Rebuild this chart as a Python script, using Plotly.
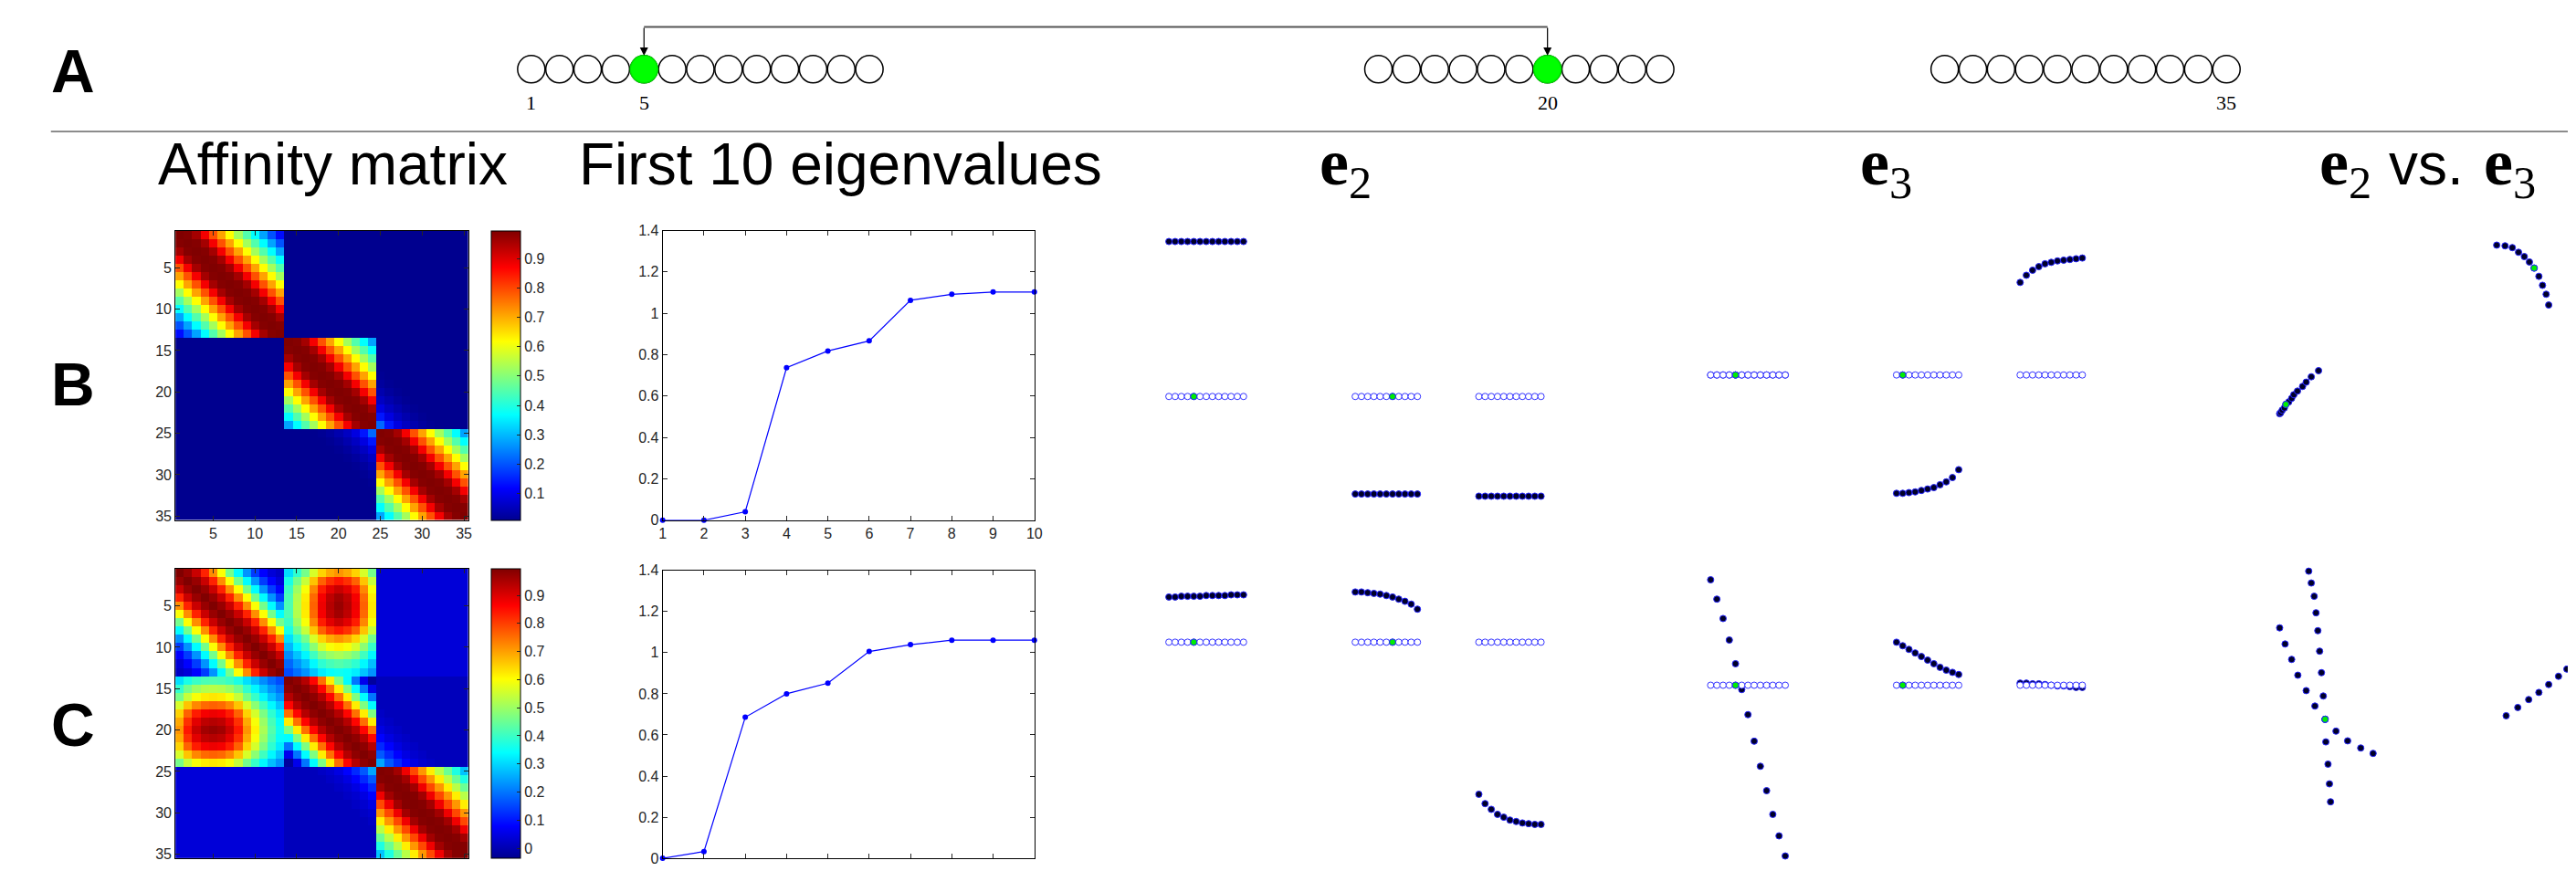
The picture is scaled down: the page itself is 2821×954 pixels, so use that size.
import numpy as np
import plotly.graph_objects as go

W, H = 2821, 954
SANS = "Liberation Sans, Arial, Helvetica, sans-serif"
SERIF = "Liberation Serif, Times New Roman, serif"
TICKC = "#262626"

# ---------------- data ----------------
group_sizes = [13, 11, 11]          # points in the three chains of panel A
highlight = [5, 20]                 # the two connected (green) points
chain_labels = [1, 5, 20, 35]

heat_ticks = [5, 10, 15, 20, 25, 30, 35]
cbar_ticks_B = [0.1, 0.2, 0.3, 0.4, 0.5, 0.6, 0.7, 0.8, 0.9]
cbar_ticks_C = [0, 0.1, 0.2, 0.3, 0.4, 0.5, 0.6, 0.7, 0.8, 0.9]

# affinity read from the matrices: value vs |i-j| inside each chain
band_B = [1.00, 0.99, 0.96, 0.88, 0.79, 0.71, 0.62, 0.53, 0.45, 0.37, 0.28, 0.20, 0.13]
cross23_B = [0.0, 0.22, 0.14, 0.09, 0.06, 0.04, 0.025, 0.015]
floors_B = {(0, 1): 0.01, (0, 2): 0.01, (1, 2): 0.01}

band_C1 = [1.00, 0.97, 0.92, 0.83, 0.72, 0.60, 0.46, 0.34, 0.23, 0.14, 0.08, 0.04, 0.02]
band_C2 = [1.00, 0.98, 0.94, 0.86, 0.75, 0.62, 0.47, 0.34, 0.20, 0.06, -0.02]
band_C3 = [1.00, 0.99, 0.96, 0.88, 0.79, 0.71, 0.62, 0.53, 0.45, 0.37, 0.28]
cross23_C = [0.0, 0.25, 0.17, 0.12, 0.08, 0.05, 0.03, 0.02]
blob_rows_C = [0.98, 0.97, 0.93, 0.85, 0.72, 0.62, 0.52, 0.43, 0.36]   # vs |i-5|
blob_cols_C = [0.99, 0.96, 0.90, 0.78, 0.64, 0.54, 0.43]               # vs |j-20|
floors_C = {(0, 1): 0.0, (0, 2): 0.04, (1, 2): 0.01}

eig_idx = [1, 2, 3, 4, 5, 6, 7, 8, 9, 10]
eig_B = [0.0, 0.0, 0.041, 0.737, 0.818, 0.867, 1.063, 1.092, 1.103, 1.103]
eig_C = [0.0, 0.033, 0.686, 0.800, 0.852, 1.006, 1.039, 1.061, 1.061, 1.061]

# eigenvector components per chain
e2_B = [[0.216] * 13, [-0.136] * 11, [-0.139] * 11]
e3_B = [[0.0] * 13,
        [-0.165, -0.165, -0.164, -0.163, -0.161, -0.159, -0.157, -0.153, -0.149, -0.143, -0.132],
        [0.129, 0.139, 0.146, 0.151, 0.155, 0.157, 0.159, 0.160, 0.161, 0.162, 0.163]]
e2_C = [[0.063, 0.063, 0.064, 0.064, 0.064, 0.064, 0.065, 0.065, 0.065, 0.065, 0.066, 0.066, 0.066],
        [0.070, 0.070, 0.069, 0.068, 0.067, 0.065, 0.063, 0.060, 0.057, 0.053, 0.046],
        [-0.212, -0.225, -0.233, -0.240, -0.244, -0.248, -0.250, -0.252, -0.253, -0.254, -0.254]]
e3_C = [[0.147, 0.120, 0.093, 0.063, 0.030, -0.006, -0.041, -0.078, -0.113, -0.147, -0.180, -0.210, -0.238],
        [0.060, 0.055, 0.050, 0.045, 0.040, 0.035, 0.030, 0.025, 0.021, 0.018, 0.015],
        [0.003, 0.003, 0.002, 0.002, 0.001, 0.000, -0.001, -0.001, -0.002, -0.003, -0.003]]
green_e2 = [5, 7, None]
green_e3 = [5, 2, None]

# e2 vs e3 scatter (visible parts)
sc_B = [
    ([-0.1825, -0.181, -0.179, -0.176, -0.174, -0.170, -0.166, -0.163, -0.158, -0.151, -0.146, -0.139, -0.129],
     [-0.054, -0.0525, -0.049, -0.046, -0.041, -0.0375, -0.0325, -0.0275, -0.0225, -0.016, -0.010, -0.0025, 0.006], 4),
    ([0.116, 0.1275, 0.1375, 0.146, 0.154, 0.161, 0.1675, 0.174, 0.179, 0.184, 0.1875],
     [0.181, 0.180, 0.1775, 0.171, 0.165, 0.1575, 0.149, 0.1375, 0.125, 0.1125, 0.0975], 6),
]
sc_C = [
    ([-0.1425, -0.139, -0.135, -0.1325, -0.130, -0.1275, -0.125, -0.1225, -0.120, -0.119, -0.116, -0.114, -0.1125],
     [0.159, 0.1425, 0.124, 0.101, 0.076, 0.0475, 0.0175, -0.015, -0.0475, -0.079, -0.110, -0.1375, -0.1625], 8),
    ([-0.1825, -0.175, -0.166, -0.1575, -0.146, -0.134, -0.120, -0.105, -0.089, -0.071, -0.054],
     [0.080, 0.0575, 0.036, 0.014, -0.0075, -0.029, -0.0475, -0.064, -0.0775, -0.0875, -0.095], 6),
    ([0.129, 0.145, 0.160, 0.174, 0.1875, 0.201, 0.2125],
     [-0.0425, -0.031, -0.020, -0.010, 0.001, 0.0125, 0.0225], None),
]

# ---------------- helpers ----------------
def pxd(a, b):
    return [a / W, b / W]


def pyd(top, bottom):
    return [1 - bottom / H, 1 - top / H]


def affinity(bands, cross23, floors, blob_rows=None, blob_cols=None):
    n = sum(group_sizes)
    grp = np.repeat(np.arange(3), group_sizes)
    M = np.empty((n, n))
    for i in range(n):
        for j in range(n):
            gi, gj = grp[i], grp[j]
            d = abs(i - j)
            if gi == gj:
                M[i, j] = bands[gi][d]
            else:
                pair = (min(gi, gj), max(gi, gj))
                v = floors[pair]
                if pair == (1, 2) and d < len(cross23):
                    v = max(v, cross23[d])
                if pair == (0, 1) and blob_rows is not None:
                    r, c = (i, j) if gi == 0 else (j, i)
                    v = blob_rows[abs(r - 4)] * blob_cols[abs(c - 19)]
                M[i, j] = v
    return M


jet = [[0.0, "rgb(0,0,143)"], [0.111, "rgb(0,0,255)"], [0.365, "rgb(0,255,255)"],
       [0.619, "rgb(255,255,0)"], [0.873, "rgb(255,0,0)"], [1.0, "rgb(128,0,0)"]]

tickfont = dict(family=SANS, size=16, color=TICKC)


def frame_axis(domain, rng, tickvals, anchor, ticktext=None, labels=True):
    d = dict(domain=domain, range=rng, tickvals=tickvals, ticks="inside", ticklen=5,
             tickwidth=1, tickcolor=TICKC, showline=True, linecolor="black", linewidth=1,
             mirror="ticks", showgrid=False, zeroline=False, anchor=anchor,
             tickfont=tickfont, fixedrange=True, showticklabels=labels)
    if ticktext is not None:
        d["ticktext"] = ticktext
    return d


def hidden_axis(domain, rng, anchor):
    return dict(domain=domain, range=rng, visible=False, anchor=anchor, fixedrange=True)


fig = go.Figure()
layout = dict(width=W, height=H, margin=dict(l=0, r=0, t=0, b=0),
              paper_bgcolor="white", plot_bgcolor="rgba(0,0,0,0)", showlegend=False)
annotations = []
shapes = []

# ---------------- row A: the chains ----------------
gap1, gap2 = 529 / 31, 282 / 31


def slot(i):
    if i <= group_sizes[0]:
        return i
    if i <= group_sizes[0] + group_sizes[1]:
        return i + gap1
    return i + gap1 + gap2


pts = list(range(1, sum(group_sizes) + 1))
layout["xaxis"] = hidden_axis([0, 1], [1 - 580.5 / 31, 1 + (W - 580.5) / 31], "y")
layout["yaxis"] = hidden_axis(pyd(39, 99), [-1, 1], "x")
fig.add_trace(go.Scatter(x=[slot(p) for p in pts], y=[0] * len(pts), mode="markers",
                         marker=dict(size=30, color="white", line=dict(color="black", width=1.5)),
                         xaxis="x", yaxis="y", cliponaxis=False, hoverinfo="skip"))
fig.add_trace(go.Scatter(x=[slot(p) for p in highlight], y=[0] * len(highlight), mode="markers",
                         marker=dict(size=30, color="#00ff00", line=dict(color="#00e000", width=1.5)),
                         xaxis="x", yaxis="y", cliponaxis=False, hoverinfo="skip"))
for lab in chain_labels:
    annotations.append(dict(x=slot(lab), y=1 - 106 / H, xref="x", yref="paper", text=str(lab),
                            showarrow=False, font=dict(family=SERIF, size=22, color="black"),
                            xanchor="center", yanchor="middle"))
for p in highlight:
    annotations.append(dict(x=slot(p), y=1 - 54 / H, xref="x", yref="paper", text="",
                            showarrow=True, arrowhead=2, arrowsize=1.5, arrowwidth=1.2,
                            arrowcolor="black", ax=0, ay=-32, standoff=0))
shapes.append(dict(type="line", xref="x", yref="paper", x0=slot(highlight[0]), x1=slot(highlight[1]),
                   y0=1 - 22 / H, y1=1 - 22 / H, line=dict(color="#555555", width=2)))
shapes.append(dict(type="line", xref="paper", yref="paper", x0=52 / W, x1=1, y0=1 - 138.5 / H,
                   y1=1 - 138.5 / H, line=dict(color="#8c8c8c", width=2)))

# ---------------- heatmaps ----------------
idx35 = list(range(1, 36))
M_B = affinity([band_B, band_B[:11], band_B[:11]], cross23_B, floors_B)
M_C = affinity([band_C1, band_C2, band_C3], cross23_C, floors_C, blob_rows_C, blob_cols_C)

for k, (M, top, bot, zmin, zmax, cticks, xa, ya) in enumerate([
        (M_B, 249, 572, 0.01, 0.995, cbar_ticks_B, "x2", "y2"),
        (M_C, 626, 949, -0.035, 0.995, cbar_ticks_C, "x3", "y3")]):
    fig.add_trace(go.Heatmap(
        z=M, x=idx35, y=idx35, colorscale=jet, zmin=zmin, zmax=zmax, xaxis=xa, yaxis=ya,
        hoverinfo="skip",
        colorbar=dict(x=536 / W, xanchor="left", xpad=0, y=1 - top / H, yanchor="top", ypad=0,
                      len=(bot - top) / H, lenmode="fraction", thickness=32, thicknessmode="pixels",
                      outlinewidth=1, outlinecolor="black", ticks="inside", ticklen=4,
                      tickcolor=TICKC, tickvals=cticks, ticktext=[("%g" % t) for t in cticks],
                      tickfont=tickfont)))
    xn, yn = ("xaxis2", "yaxis2") if k == 0 else ("xaxis3", "yaxis3")
    layout[xn] = frame_axis(pxd(189, 511), [0.5, 35.5], heat_ticks, ya, labels=(k == 0))
    layout[yn] = frame_axis(pyd(top, bot), [35.5, 0.5], heat_ticks, xa)

# ---------------- eigenvalue plots ----------------
ytv = [0, 0.2, 0.4, 0.6, 0.8, 1.0, 1.2, 1.4]
ytt = ["0", "0.2", "0.4", "0.6", "0.8", "1", "1.2", "1.4"]
for k, (vals, top, bot, xa, ya) in enumerate([(eig_B, 249, 572, "x4", "y4"),
                                              (eig_C, 628, 949, "x5", "y5")]):
    fig.add_trace(go.Scatter(x=eig_idx, y=vals, mode="lines+markers", xaxis=xa, yaxis=ya,
                             line=dict(color="#0000ff", width=1.2),
                             marker=dict(size=6, color="#0000ff"), cliponaxis=False,
                             hoverinfo="skip"))
    xn, yn = ("xaxis4", "yaxis4") if k == 0 else ("xaxis5", "yaxis5")
    layout[xn] = frame_axis(pxd(725, 1134), [1, 10], eig_idx, ya, labels=(k == 0))
    layout[yn] = frame_axis(pyd(top, bot), [0, 1.4], ytv, xa, ytt)

# ---------------- eigenvector panels ----------------
spacing = 6.84
first_e2 = [1282, 1487, 1623]
first_e3 = [1878, 2082.5, 2218.5]
for k in range(3):
    n = group_sizes[k]
    for c1, num in ((first_e2[k], 6 + k), (first_e3[k], 9 + k)):
        layout["xaxis%d" % num] = hidden_axis(pxd(c1 - spacing / 2, c1 + (n - 0.5) * spacing),
                                              [0.5, n + 0.5], "y6")

scale = 800.0
vec_axes = {"y6": (240, 580, 434), "y7": (240, 580, 410), "y8": (600, 954, 708), "y9": (600, 954, 756)}
for name, (top, bot, base) in vec_axes.items():
    layout["yaxis" + name[1:]] = hidden_axis(pyd(top, bot), [-(bot - base) / scale, (base - top) / scale], "x6")

filled = dict(size=7, color="#000028", line=dict(color="#2626ff", width=1))
hollow = dict(size=7, color="white", line=dict(color="#3434ff", width=1))
greenm = dict(size=7, color="#00ee00", line=dict(color="#2626ff", width=1))

for e2g, e3g, y2, y3 in ((e2_B, e3_B, "y6", "y7"), (e2_C, e3_C, "y8", "y9")):
    for groups, greens, ya, xbase in ((e2g, green_e2, y2, 6), (e3g, green_e3, y3, 9)):
        for k in range(3):
            n = group_sizes[k]
            xi = list(range(1, n + 1))
            xa = "x%d" % (xbase + k)
            fig.add_trace(go.Scatter(x=xi, y=groups[k], mode="markers", marker=filled,
                                     xaxis=xa, yaxis=ya, cliponaxis=False, hoverinfo="skip"))
            fig.add_trace(go.Scatter(x=xi, y=[0.0] * n, mode="markers", marker=hollow,
                                     xaxis=xa, yaxis=ya, cliponaxis=False, hoverinfo="skip"))
            if greens[k] is not None:
                fig.add_trace(go.Scatter(x=[greens[k]], y=[0.0], mode="markers", marker=greenm,
                                         xaxis=xa, yaxis=ya, cliponaxis=False, hoverinfo="skip"))

# ---------------- e2 vs e3 ----------------
layout["xaxis12"] = hidden_axis(pxd(2480, W), [(2480 - 2650) / scale, (W - 2650) / scale], "y10")
layout["yaxis10"] = hidden_axis(pyd(240, 580), [(410 - 580) / scale, (410 - 240) / scale], "x12")
layout["yaxis11"] = hidden_axis(pyd(600, 954), [(756 - 954) / scale, (756 - 600) / scale], "x12")
for sets, ya in ((sc_B, "y10"), (sc_C, "y11")):
    for xs, ys, g in sets:
        fig.add_trace(go.Scatter(x=xs, y=ys, mode="markers", marker=filled, xaxis="x12", yaxis=ya,
                                 cliponaxis=True, hoverinfo="skip"))
    for xs, ys, g in sets:
        if g is not None:
            fig.add_trace(go.Scatter(x=[xs[g]], y=[ys[g]], mode="markers", marker=greenm,
                                     xaxis="x12", yaxis=ya, cliponaxis=True, hoverinfo="skip"))

# ---------------- text ----------------
def txt(text, x, y, size, family, bold=False, xanchor="center"):
    if bold:
        text = "<b>%s</b>" % text
    annotations.append(dict(x=x / W, y=1 - y / H, xref="paper", yref="paper", text=text,
                            showarrow=False, xanchor=xanchor, yanchor="middle",
                            font=dict(family=family, size=size, color="black")))


txt("A", 76, 71, 66, SANS, bold=True)
txt("B", 76, 421, 66, SANS, bold=True)
txt("C", 76, 800, 66, SANS, bold=True)
txt("Affinity matrix", 362, 175, 64, SANS)
txt("First 10 eigenvalues", 921, 175, 64, SANS)
txt("<b>e</b><sub>2</sub>", 1476, 178, 72, SERIF)
txt("<b>e</b><sub>3</sub>", 2071, 178, 72, SERIF)
txt("<b>e</b><sub>2</sub>", 2576, 178, 72, SERIF)
txt("vs.", 2665, 175, 64, SANS)
txt("<b>e</b><sub>3</sub>", 2757, 178, 72, SERIF)

layout["annotations"] = annotations
layout["shapes"] = shapes
fig.update_layout(**layout)
fig.write_html("out.html",
               config={"displayModeBar": False, "staticPlot": True},
               post_script="document.body.style.margin='0px';"
                           "document.documentElement.style.overflow='hidden';")
